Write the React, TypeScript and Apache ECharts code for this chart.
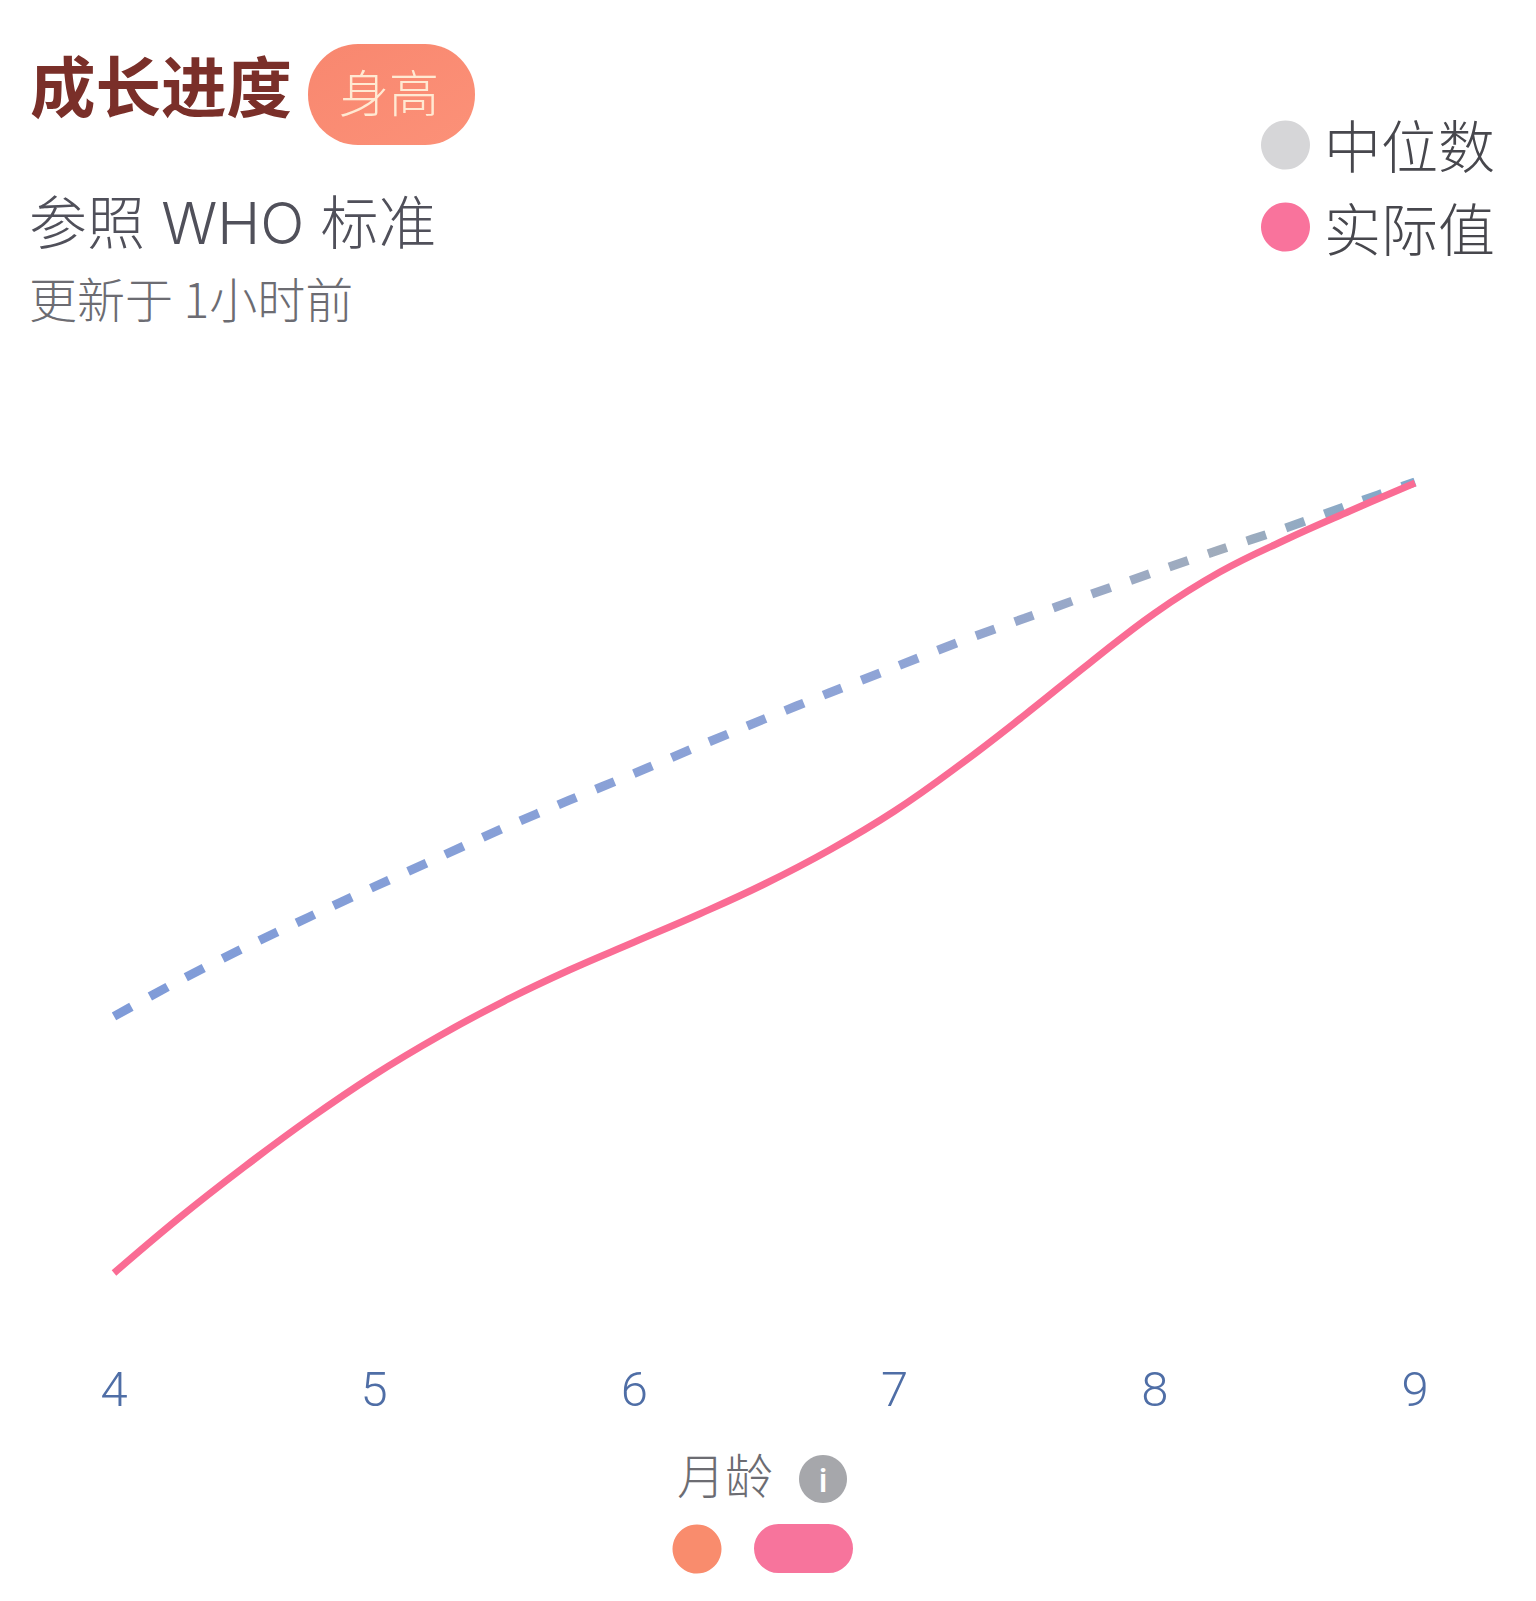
import React, { useEffect, useRef } from "react";
import * as echarts from "echarts";

const months = [4, 4.25, 4.5, 4.75, 5, 5.25, 5.5, 5.75, 6, 6.25, 6.5, 6.75, 7, 7.25, 7.5, 7.75, 8, 8.25, 8.5, 8.75, 9];
const medianValues = [64.04, 64.57, 65.06, 65.52, 65.97, 66.41, 66.85, 67.26, 67.66, 68.07, 68.47, 68.86, 69.24, 69.62, 69.97, 70.32, 70.66, 70.99, 71.31, 71.66, 72];
const actualValues = [60.216, 61.035, 61.795, 62.51, 63.166, 63.747, 64.268, 64.73, 65.147, 65.564, 66.011, 66.518, 67.099, 67.784, 68.529, 69.304, 70.048, 70.659, 71.136, 71.568, 71.985];
const seriesNames = ["中位数", "实际值"];
const titleText = "成长进度";
const badgeText = "身高";
const subtitleText = "参照 WHO 标准";
const updatedText = "更新于 1小时前";
const axisCaption = "月龄";

const CJK = '"Noto Sans CJK SC", "Noto Sans", sans-serif';
const MIXED = 'Inter, "Noto Sans CJK SC", sans-serif';

export default function App() {
  const ref = useRef<HTMLDivElement>(null);
  useEffect(() => {
    document.body.style.margin = "0";
    document.body.style.background = "#fff";
    const chart = echarts.init(ref.current!, undefined, { renderer: "svg" });
    const pairs = (ys: number[]) => months.map((m, i) => [m, ys[i]]);
    chart.setOption({
      animation: false,
      backgroundColor: "#ffffff",
      grid: { left: 114, right: 121, top: 482, height: 805.5, containLabel: false },
      xAxis: {
        type: "value",
        min: 4,
        max: 9,
        interval: 1,
        axisLine: { show: false },
        axisTick: { show: false },
        splitLine: { show: false },
        axisLabel: {
          margin: 77,
          fontSize: 49,
          fontFamily: "Roboto, sans-serif",
          fontWeight: 300,
          color: "#4f6ea6",
        },
      },
      yAxis: {
        type: "value",
        min: 60,
        max: 72,
        show: false,
      },
      series: [
        {
          name: seriesNames[0],
          type: "line",
          data: pairs(medianValues),
          smooth: 0.3,
          symbol: "none",
          lineStyle: {
            width: 9,
            type: [20, 21],
            cap: "butt",
            color: {
              type: "linear",
              x: 0,
              y: 0,
              x2: 1,
              y2: 0,
              colorStops: [
                { offset: 0, color: "#7f9bd8" },
                { offset: 0.6, color: "#8fa4d6" },
                { offset: 0.85, color: "#a0acbc" },
                { offset: 1, color: "#7fa8cc" },
              ],
            },
          },
          z: 2,
        },
        {
          name: seriesNames[1],
          type: "line",
          data: pairs(actualValues),
          smooth: 0.4,
          symbol: "none",
          lineStyle: { width: 7, color: "#fa6c94", cap: "butt" },
          z: 3,
        },
      ],
      graphic: [
        {
          type: "circle",
          shape: { cx: 1285.5, cy: 145, r: 24.5 },
          style: { fill: "#d6d6d8" },
        },
        {
          type: "text",
          x: 1324,
          y: 143,
          style: {
            text: seriesNames[0],
            fontSize: 57,
            fontFamily: CJK,
            fontWeight: 300,
            fill: "#47474d",
            verticalAlign: "middle",
          },
        },
        {
          type: "circle",
          shape: { cx: 1285.5, cy: 227, r: 24.5 },
          style: { fill: "#f9739c" },
        },
        {
          type: "text",
          x: 1324,
          y: 226,
          style: {
            text: seriesNames[1],
            fontSize: 57,
            fontFamily: CJK,
            fontWeight: 300,
            fill: "#47474d",
            verticalAlign: "middle",
          },
        },
        {
          type: "text",
          left: 30,
          top: 51,
          style: { text: titleText, fontSize: 65.5, fontWeight: 700, fontFamily: CJK, fill: "#7a2f29" },
        },
        {
          type: "rect",
          x: 308,
          y: 44,
          shape: { x: 0, y: 0, width: 167, height: 101, r: 50 },
          style: {
            fill: {
              type: "linear",
              x: 0,
              y: 0,
              x2: 1,
              y2: 1,
              colorStops: [
                { offset: 0, color: "#f8876f" },
                { offset: 1, color: "#fc9178" },
              ],
            },
          },
        },
        {
          type: "text",
          x: 389,
          y: 90,
          style: {
            text: badgeText,
            fontSize: 50,
            fontFamily: CJK,
            fontWeight: 300,
            fill: "#ffe9d2",
            align: "center",
            verticalAlign: "middle",
          },
        },
        {
          type: "text",
          x: 29,
          y: 223,
          style: {
            text: subtitleText,
            fontSize: 58,
            fontFamily: MIXED,
            fontWeight: 300,
            fill: "#50505a",
            verticalAlign: "middle",
          },
        },
        {
          type: "text",
          x: 29,
          y: 297,
          style: {
            text: updatedText,
            fontSize: 48,
            fontFamily: CJK,
            fontWeight: 300,
            fill: "#6c6c72",
            verticalAlign: "middle",
          },
        },
        {
          type: "text",
          x: 725,
          y: 1473,
          style: {
            text: axisCaption,
            fontSize: 48,
            fontFamily: CJK,
            fontWeight: 300,
            fill: "#6c6c72",
            align: "center",
            verticalAlign: "middle",
          },
        },
        {
          type: "circle",
          shape: { cx: 823, cy: 1479, r: 24 },
          style: { fill: "#a6a7ab" },
        },
        {
          type: "text",
          x: 823,
          y: 1480,
          style: {
            text: "i",
            fontSize: 34,
            fontWeight: 500,
            fontFamily: "Roboto, sans-serif",
            fill: "#ffffff",
            align: "center",
            verticalAlign: "middle",
          },
        },
        {
          type: "circle",
          shape: { cx: 697, cy: 1549, r: 24.5 },
          style: { fill: "#f98c6d" },
        },
        {
          type: "rect",
          shape: { x: 754, y: 1524, width: 99, height: 49, r: 24.5 },
          style: { fill: "#f7749c" },
        },
      ],
    });
    return () => chart.dispose();
  }, []);
  return <div ref={ref} style={{ position: "absolute", left: 0, top: 0, width: 1536, height: 1601 }} />;
}
